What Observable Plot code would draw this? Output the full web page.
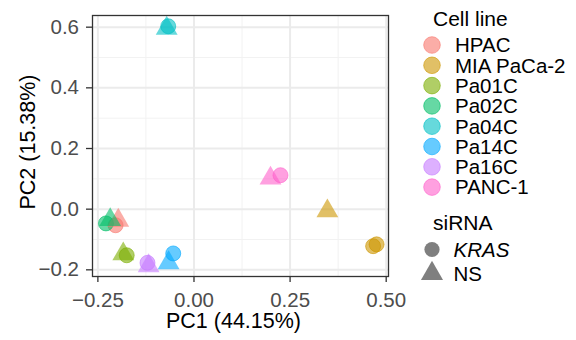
<!DOCTYPE html>
<html>
<head>
<meta charset="utf-8">
<script src="https://cdn.jsdelivr.net/npm/d3@7"></script>
<script src="https://cdn.jsdelivr.net/npm/@observablehq/plot@0.6"></script>
<style>
  html, body { margin: 0; padding: 0; background: #fff; }
  #chart { position: relative; width: 576px; height: 340px; }
</style>
</head>
<body>
<div id="chart"></div>
<script>
// ---- Data ----
const cellLines = ["HPAC", "MIA PaCa-2", "Pa01C", "Pa02C", "Pa04C", "Pa14C", "Pa16C", "PANC-1"];
const cellColors = ["#F8766D", "#CD9600", "#7CAE00", "#00BE67", "#00BFC4", "#00A9FF", "#C77CFF", "#FF61CC"];
const sirnaLevels = ["KRAS", "NS"];

const pointCell  = ["HPAC", "HPAC", "MIA PaCa-2", "MIA PaCa-2", "MIA PaCa-2", "Pa01C", "Pa01C", "Pa02C", "Pa02C", "Pa04C", "Pa04C", "Pa14C", "Pa14C", "Pa16C", "Pa16C", "PANC-1", "PANC-1"];
const pointSirna = ["KRAS", "NS",   "KRAS",       "KRAS",       "NS",         "KRAS",  "NS",    "KRAS",  "NS",    "KRAS",  "NS",    "KRAS",  "NS",    "KRAS",  "NS",    "KRAS",   "NS"];
const pc1Values  = [-0.204, -0.197, 0.466, 0.475, 0.347, -0.175, -0.184, -0.229, -0.218, -0.067, -0.071, -0.054, -0.066, -0.121, -0.118, 0.225, 0.199];
const pc2Values  = [-0.053, -0.037, -0.122, -0.116, -0.006, -0.152, -0.148, -0.047, -0.035, 0.603, 0.596, -0.146, -0.177, -0.177, -0.187, 0.112, 0.102];

const xTicks = [-0.25, 0, 0.25, 0.5];
const yTicks = [-0.2, 0, 0.2, 0.4, 0.6];
const xMinor = [-0.125, 0.125, 0.375];
const yMinor = [-0.1, 0.1, 0.3, 0.5];

const xTitle = "PC1 (44.15%)";
const yTitle = "PC2 (15.38%)";
const colorTitle = "Cell line";
const shapeTitle = "siRNA";

// ---- Build table ----
const points = pc1Values.map((x, i) => ({pc1: x, pc2: pc2Values[i], cell: pointCell[i], sirna: pointSirna[i]}));
const circles = points.filter(d => d.sirna === "KRAS");
const triangles = points.filter(d => d.sirna === "NS");

const FONT = "'Liberation Sans', Arial, Helvetica, sans-serif";
const fmtX = d3.format(".2f");
const fmtY = d3.format(".1f");

const chart = Plot.plot({
  width: 576,
  height: 340,
  marginLeft: 92,
  marginRight: 188,
  marginTop: 15,
  marginBottom: 64,
  style: {fontFamily: FONT, fontSize: "20.5px", background: "#fff", overflow: "visible"},
  x: {domain: [-0.264, 0.506]},
  y: {domain: [-0.222, 0.6385]},
  color: {domain: cellLines, range: cellColors},
  marks: [
    Plot.gridX(xMinor, {stroke: "#F2F2F2", strokeOpacity: 1, strokeWidth: 1}),
    Plot.gridY(yMinor, {stroke: "#F2F2F2", strokeOpacity: 1, strokeWidth: 1}),
    Plot.gridX(xTicks, {stroke: "#EBEBEB", strokeOpacity: 1, strokeWidth: 2}),
    Plot.gridY(yTicks, {stroke: "#EBEBEB", strokeOpacity: 1, strokeWidth: 2}),
    Plot.dot(circles, {x: "pc1", y: "pc2", fill: "cell", stroke: "cell", strokeWidth: 1, fillOpacity: 0.6, strokeOpacity: 0.6, r: 7.5, symbol: "circle"}),
    Plot.dot(triangles, {x: "pc1", y: "pc2", fill: "cell", fillOpacity: 0.6, r: 8.1, symbol: "triangle"}),
    Plot.frame({stroke: "#333333", strokeWidth: 1.3}),
    // ticks
    Plot.axisX(xTicks, {tickSize: 6, text: null, stroke: "#333333", strokeWidth: 1.3, label: null}),
    Plot.axisY(yTicks, {tickSize: 6, text: null, stroke: "#333333", strokeWidth: 1.3, label: null}),
    // tick labels
    Plot.axisX(xTicks, {tickSize: 0, tickPadding: 16, fill: "#4D4D4D", tickFormat: fmtX, label: null, fontSize: 20.5}),
    Plot.axisY(yTicks, {tickSize: 0, tickPadding: 13.5, fill: "#4D4D4D", tickFormat: fmtY, label: null, fontSize: 20.5}),
    // axis titles
    Plot.text([xTitle], {frameAnchor: "bottom", dy: 51, dx: -7, fontSize: 21.5, fill: "#000"}),
    Plot.text([yTitle], {frameAnchor: "left", textAnchor: "middle", rotate: -90, dx: -64, dy: -4, fontSize: 21.5, fill: "#000"})
  ]
});

document.getElementById("chart").appendChild(chart);

// ---- Legend (drawn into the same SVG) ----
const svg = d3.select(chart.tagName.toLowerCase() === "svg" ? chart : chart.querySelector("svg"));
const leg = svg.append("g").attr("font-family", FONT).attr("fill", "#000").attr("text-anchor", "start");

leg.append("text").attr("x", 433).attr("y", 26).attr("font-size", 21).text(colorTitle);
const step = 20.3;
cellLines.forEach((c, i) => {
  const cy = 45 + i * step;
  leg.append("circle").attr("cx", 432).attr("cy", cy).attr("r", 8.3)
    .attr("fill", cellColors[i]).attr("fill-opacity", 0.6)
    .attr("stroke", cellColors[i]).attr("stroke-opacity", 0.6).attr("stroke-width", 1);
  leg.append("text").attr("x", 455).attr("y", cy).attr("dy", "0.36em").attr("font-size", 20.5).text(c);
});

leg.append("text").attr("x", 433).attr("y", 230).attr("font-size", 21).text(shapeTitle);
const sy = [249.5, 273.5];
sirnaLevels.forEach((s, i) => {
  const sym = i === 0 ? d3.symbolCircle : d3.symbolTriangle;
  const size = i === 0 ? Math.PI * 7.6 * 7.6 : Math.PI * 8.2 * 8.2;
  leg.append("path").attr("d", d3.symbol(sym, size)()).attr("transform", `translate(432,${sy[i]})`)
    .attr("fill", "#7F7F7F");
  leg.append("text").attr("x", 453.5).attr("y", sy[i]).attr("dy", "0.36em").attr("font-size", 20.5)
    .attr("font-style", i === 0 ? "italic" : "normal").text(s);
});
</script>
</body>
</html>
